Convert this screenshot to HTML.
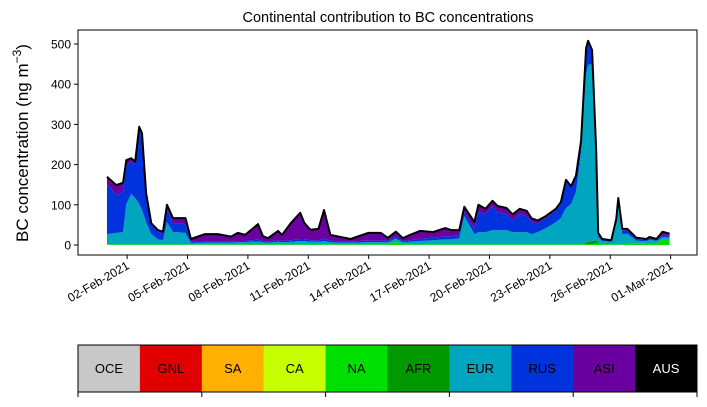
<!DOCTYPE html>
<html><head><meta charset="utf-8"><style>
body{margin:0;background:#fff;font-family:"Liberation Sans",sans-serif}
</style></head><body>
<svg id="chart" width="707" height="402" xmlns="http://www.w3.org/2000/svg" font-family="Liberation Sans, sans-serif">
<text x="388" y="22" font-size="14.5" text-anchor="middle">Continental contribution to BC concentrations</text>
<g id="plot"></g>
<rect x="78" y="30" width="619" height="225" fill="none" stroke="#000" stroke-width="1"/>
<g id="yaxis" font-size="12"></g>
<g id="xaxis" font-size="12"></g>
<text transform="translate(28,143) rotate(-90)" font-size="17" text-anchor="middle">BC concentration (ng m<tspan dy="-7" font-size="12">−3</tspan><tspan dy="7">)</tspan></text>
<g id="legend" font-size="13"></g>
</svg>
<script>
const times=[0,0.46,0.8,0.96,1.2,1.4,1.6,1.74,1.94,2.2,2.53,2.78,2.98,3.28,3.5,3.9,4.17,4.87,5.5,6.16,6.5,6.86,7.1,7.5,7.75,8.0,8.5,8.7,9.14,9.6,9.8,10.1,10.5,10.78,11.1,11.6,12.1,12.97,13.6,13.95,14.35,14.7,15.05,15.55,16.2,16.8,17.1,17.5,17.75,18.25,18.45,18.8,19.15,19.4,19.85,20.15,20.5,20.85,21.1,21.4,21.8,22.3,22.55,22.8,23.05,23.3,23.55,23.8,23.9,24.1,24.3,24.4,24.6,25.05,25.3,25.4,25.6,25.85,26.3,26.8,26.95,27.3,27.6,27.95];
const naVals=[2,2,2,2,2,2,2,2,2,2,2,2,2,2,2,2,2,2,2,2,2,2,2,2,2,2,2,2,2,2,2,2,2,2,2,2,2,2,2,2,8,2,2,2,2,2,2,2,2,2,2,2,2,2,2,2,2,2,2,2,2,2,2,2,2,2,2,2,2,2,4,3,2,2,2,2,2,3,3,3,5,5,15,15];
const afrVals=[0,0,0,0,0,0,0,0,0,0,0,0,0,0,0,0,0,0,0,0,0,0,0,0,0,0,0,0,0,0,0,0,0,0,0,0,0,0,0,0,0,0,0,0,0,0,0,0,0,0,0,0,0,0,0,0,0,0,0,0,0,0,0,0,0,0,0,3,6,8,8,2,0,0,0,0,0,0,0,0,0,0,0,0];
const eurVals=[25,28,30,100,125,115,100,85,55,25,12,10,55,30,30,28,3,4,4,4,5,5,6,7,5,4,6,5,6,8,8,6,6,8,5,4,4,5,5,5,8,5,6,8,10,12,12,15,70,25,30,30,35,35,35,30,30,30,25,30,40,55,65,90,100,130,230,420,440,440,200,15,8,6,50,100,25,25,8,6,8,5,5,4];
const rusVals=[125,95,100,95,80,85,185,185,70,25,20,15,35,20,22,22,3,3,3,3,3,3,4,4,3,3,4,3,4,5,5,4,4,6,4,3,3,4,4,4,5,3,4,6,6,8,8,8,10,15,50,45,60,45,40,30,45,40,30,22,25,28,35,65,40,38,25,60,55,30,15,5,3,2,10,12,8,8,3,3,3,2,5,4];
const asiVals=[18,24,23,14,9,5,7,6,2,2,3,6,8,15,13,15,7,18,18,12,20,15,23,39,12,8,23,15,43,65,40,26,28,71,14,11,6,19,19,7,12,7,13,19,14,20,15,12,13,15,18,13,13,15,15,14,13,13,9,7,5,5,5,5,4,3,3,5,5,5,6,5,2,2,3,3,5,4,4,3,4,3,8,5];
const yTicks=[0,100,200,300,400,500];
const xTickDays=[1,4,7,10,13,16,19,22,25,28];
const xTickLabels=["02-Feb-2021","05-Feb-2021","08-Feb-2021","11-Feb-2021","14-Feb-2021","17-Feb-2021","20-Feb-2021","23-Feb-2021","26-Feb-2021","01-Mar-2021"];
const legendNames=["OCE","GNL","SA","CA","NA","AFR","EUR","RUS","ASI","AUS"];
const legendColors=["#c8c8c8","#e00000","#ffb000","#c8ff00","#00e000","#009a00","#00a5bf","#0033dd","#6a009f","#000000"];

const NS="http://www.w3.org/2000/svg";
const xs=t=>107+t*20.13;
const ys=v=>245-v*0.402;
function mk(tag,attrs,parent){const e=document.createElementNS(NS,tag);for(const k in attrs)e.setAttribute(k,attrs[k]);parent.appendChild(e);return e;}
const plot=document.getElementById('plot');
const series=[["na",naVals,"#00e000"],["afr",afrVals,"#009a00"],["eur",eurVals,"#00a5bf"],["rus",rusVals,"#0033dd"],["asi",asiVals,"#6a009f"]];
let base=times.map(()=>0);
series.forEach(s=>{
  const top=base.map((b,i)=>b+s[1][i]);
  let d="M"+times.map((t,i)=>xs(t).toFixed(1)+","+ys(top[i]).toFixed(1)).join("L");
  for(let i=times.length-1;i>=0;i--)d+="L"+xs(times[i]).toFixed(1)+","+ys(base[i]).toFixed(1);
  const p=mk('path',{d:d+"Z",fill:s[2]},plot);
  
  
  base=top;
});
const tl=mk('path',{d:"M"+times.map((t,i)=>xs(t).toFixed(1)+","+ys(base[i]).toFixed(1)).join("L"),fill:"none",stroke:"#000","stroke-width":2,"stroke-linejoin":"round"},plot);


const ya=document.getElementById('yaxis');
yTicks.forEach(v=>{
  const l=mk('line',{x1:74,x2:78,y1:ys(v),y2:ys(v),stroke:"#000"},ya);
  
  
  const tx=mk('text',{x:71,y:ys(v)+4.5,"text-anchor":"end"},ya);
  
  
  tx.textContent=v;
});
const xa=document.getElementById('xaxis');
xTickDays.forEach((d,i)=>{
  const x=xs(d);
  const l=mk('line',{x1:x,x2:x,y1:255,y2:259,stroke:"#000"},xa);
  
  
  const tx=mk('text',{x:x+3,y:268,"text-anchor":"end",transform:`rotate(-30 ${x+3} 268)`},xa);
  
  
  tx.textContent=xTickLabels[i];
});
const lg=document.getElementById('legend');
const bw=619/legendNames.length;
legendNames.forEach((n,i)=>{
  const r=mk('rect',{x:78+i*bw,y:345,width:bw+0.5,height:47,fill:legendColors[i]},lg);
  
  
  const tx=mk('text',{x:78+(i+0.5)*bw,y:373,"text-anchor":"middle",fill:n==="AUS"?"#fff":"#000"},lg);
  
  
  tx.textContent=n;
});
const fr=mk('rect',{x:78,y:345,width:619,height:47,fill:"none",stroke:"#000"},lg);


for(let i=0;i<=5;i++){
  const x=78+i*2*bw;
  const l=mk('line',{x1:x,x2:x,y1:392,y2:397,stroke:"#000"},lg);
  
  
}
</script>
</body></html>
